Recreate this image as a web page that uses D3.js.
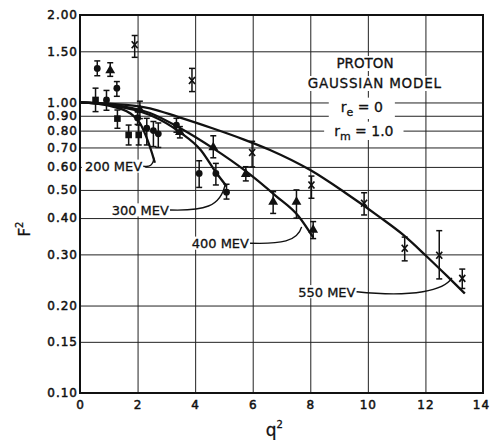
<!DOCTYPE html>
<html>
<head>
<meta charset="utf-8">
<script src="https://cdn.jsdelivr.net/npm/d3@7"></script>
<style>
  body { margin: 0; background: #fff; }
  svg text { font-family: "DejaVu Sans", sans-serif; fill: #111; }
</style>
</head>
<body>
<svg id="chart" width="490" height="440"></svg>
<script>
// ---- axis ticks ----
const xTicks = [0, 2, 4, 6, 8, 10, 12, 14];
const yTicks = [0.10, 0.15, 0.20, 0.30, 0.40, 0.50, 0.60, 0.70, 0.80, 0.90, 1.00, 1.50, 2.00];
const yTickLabels = ["0.10", "0.15", "0.20", "0.30", "0.40", "0.50", "0.60", "0.70", "0.80", "0.90", "1.00", "1.50", "2.00"];

// ---- Gaussian-model curves (r_e = 0, r_m = 1.0), one per beam energy ----
const energies = ["200 MEV", "300 MEV", "400 MEV", "550 MEV"];
const curveQ2_200 = [0, 1.0, 1.74, 2.08, 2.34, 2.50, 2.60];
const curveF2_200 = [1.0, 0.975, 0.918, 0.85, 0.745, 0.67, 0.62];
const curveQ2_300 = [0, 1.0, 2.43, 3.47, 4.2, 4.72, 5.09];
const curveF2_300 = [1.0, 0.98, 0.905, 0.79, 0.685, 0.575, 0.515];
const curveQ2_400 = [0, 1.0, 2.43, 3.47, 4.63, 5.76, 6.8, 7.6, 8.1];
const curveF2_400 = [1.0, 0.985, 0.92, 0.817, 0.695, 0.58, 0.477, 0.405, 0.343];
const curveQ2_550 = [0, 1.0, 2.43, 3.4, 4.6, 5.7, 6.6, 8.0, 9.2, 10.4, 11.2, 12.0, 12.8, 13.37];
const curveF2_550 = [1.0, 0.99, 0.955, 0.892, 0.815, 0.745, 0.686, 0.585, 0.49, 0.404, 0.352, 0.298, 0.25, 0.22];

// ---- measured F^2 with error limits ----
// 200 MeV (squares)
const q2Meas200 = [0.54, 1.30, 1.69, 2.04];
const f2Meas200 = [1.02, 0.88, 0.773, 0.773];
const f2Lo200   = [0.93, 0.815, 0.714, 0.714];
const f2Hi200   = [1.12, 0.942, 0.836, 0.836];
// 300 MeV (circles)
const q2Meas300 = [0.60, 0.92, 1.28, 2.00, 2.32, 2.55, 2.72, 3.35, 4.14, 4.72, 5.09];
const f2Meas300 = [1.31, 1.02, 1.12, 0.885, 0.815, 0.80, 0.78, 0.836, 0.57, 0.57, 0.491];
const f2Lo300   = [1.236, 0.94, 1.05, 0.84, 0.714, 0.705, 0.70, 0.79, 0.51, 0.52, 0.465];
const f2Hi300   = [1.39, 1.10, 1.18, 0.93, 0.882, 0.86, 0.85, 0.882, 0.63, 0.617, 0.523];
// 400 MeV (triangles)
const q2Meas400 = [1.05, 2.08, 3.47, 4.63, 5.76, 6.71, 7.52, 8.10];
const f2Meas400 = [1.29, 0.942, 0.79, 0.70, 0.567, 0.455, 0.455, 0.364];
const f2Lo400   = [1.23, 0.88, 0.755, 0.645, 0.537, 0.415, 0.40, 0.34];
const f2Hi400   = [1.37, 1.01, 0.826, 0.768, 0.601, 0.493, 0.50, 0.389];
// 550 MeV (crosses)
const q2Meas550 = [1.90, 3.89, 5.98, 8.04, 9.87, 11.28, 12.48, 13.28];
const f2Meas550 = [1.58, 1.19, 0.673, 0.52, 0.45, 0.315, 0.298, 0.248];
const f2Lo550   = [1.43, 1.09, 0.60, 0.468, 0.41, 0.285, 0.247, 0.229];
const f2Hi550   = [1.70, 1.31, 0.735, 0.558, 0.489, 0.344, 0.362, 0.267];

// ---- energy labels and where their leader lines meet the curves (q^2, F^2) ----
const labelQ2  = [0.17, 1.10, 3.88, 7.58];
const labelF2  = [0.58, 0.41, 0.315, 0.2145];
const leaderQ2 = [2.57, 5.05, 7.70, 12.92];
const leaderF2 = [0.645, 0.527, 0.373, 0.249];

// ---- model description text ----
const modelLines = ["PROTON", "GAUSSIAN MODEL"];

// ------------------------------------------------------------
const svg = d3.select("#chart");
const x = d3.scaleLinear().domain([0, 14]).range([80, 483]);
const y = d3.scaleLog().domain([0.1, 2]).range([393, 15]);
const W = x(14) - x(0), H = y(0.1) - y(2);
const ink = "#111";

// grid + tick labels via axes
const yAxis = svg.append("g").attr("transform", `translate(${x(0)},0)`)
  .call(d3.axisLeft(y).tickValues(yTicks).tickFormat((d, i) => yTickLabels[i])
    .tickSize(-W).tickPadding(3));
const xAxis = svg.append("g").attr("transform", `translate(0,${y(0.1)})`)
  .call(d3.axisBottom(x).tickValues(xTicks).tickFormat(d3.format("d"))
    .tickSize(-H).tickPadding(7));
[xAxis, yAxis].forEach(g => {
  g.select(".domain").remove();
  g.selectAll(".tick line").attr("stroke", "#222").attr("stroke-width", 1);
  g.selectAll(".tick text").attr("font-family", "DejaVu Sans").attr("font-size", 12)
    .attr("letter-spacing", 1).attr("fill", ink).attr("stroke", ink).attr("stroke-width", 0.5);
});
yAxis.selectAll(".tick text").attr("dx", 1);
xAxis.selectAll(".tick text").filter(d => d === 14).attr("dx", -2);

// white patches behind annotation text (they cut the grid)
const patchLayer = svg.append("g");
const textLayer = svg.append("g");
function patch(node, padX, padTop, padBot, fs, baseline) {
  const b = node.getBBox();
  patchLayer.append("rect")
    .attr("x", b.x - padX).attr("width", b.width + 2 * padX)
    .attr("y", baseline - 0.74 * fs - padTop)
    .attr("height", 0.74 * fs + padTop + padBot)
    .attr("fill", "#fff");
}

// model description block
const t1 = textLayer.append("text").attr("x", x(9.9)).attr("y", 68)
  .attr("text-anchor", "middle").attr("font-size", 13.5)
  .attr("stroke", ink).attr("stroke-width", 0.3).text(modelLines[0]);
patch(t1.node(), 3, 2, 3, 13.5, 68);
const t2 = textLayer.append("text").attr("x", x(10.24)).attr("y", 88)
  .attr("text-anchor", "middle").attr("font-size", 13.5).attr("letter-spacing", 0.8)
  .attr("stroke", ink).attr("stroke-width", 0.3).text(modelLines[1]);
patch(t2.node(), 3, 2, 3, 13.5, 88);

const re = textLayer.append("text").attr("x", x(9.79)).attr("y", 112)
  .attr("text-anchor", "middle").attr("font-size", 14)
  .attr("stroke", ink).attr("stroke-width", 0.3);
re.append("tspan").text("r");
re.append("tspan").attr("font-size", 11).attr("dy", 4).text("e");
re.append("tspan").attr("dy", -4).text(" = 0");
patch(re.node(), 12, 4, 7, 14, 112);

const rm = textLayer.append("text").attr("x", x(9.86)).attr("y", 136)
  .attr("text-anchor", "middle").attr("font-size", 14)
  .attr("stroke", ink).attr("stroke-width", 0.3);
rm.append("tspan").text("r");
rm.append("tspan").attr("font-size", 11).attr("dy", 4).text("m");
rm.append("tspan").attr("dy", -4).text(" = 1.0");
patch(rm.node(), 10, 4, 4, 14, 136);

// energy labels with leaders
energies.forEach((lab, i) => {
  const bx = x(labelQ2[i]), by = y(labelF2[i]);
  const t = textLayer.append("text").attr("x", bx).attr("y", by)
    .attr("font-size", 13).attr("stroke", ink).attr("stroke-width", 0.3).text(lab);
  patch(t.node(), 3, 2, 1.5, 13, by);
  const b = t.node().getBBox();
  const sx = b.x + b.width + 1, sy = by - 5;
  const ex = x(leaderQ2[i]), ey = y(leaderF2[i]);
  const dx = ex - sx;
  const p = d3.path();
  p.moveTo(sx, sy);
  p.bezierCurveTo(sx + 0.6 * dx, sy + (i === 3 ? 6 : 1), ex - 0.08 * dx, sy - 0.1 * (sy - ey), ex, ey);
  textLayer.append("path").attr("d", p.toString()).attr("fill", "none")
    .attr("stroke", ink).attr("stroke-width", 1.4);
});

// theory curves
const line = d3.line().x(d => x(d[0])).y(d => y(d[1])).curve(d3.curveMonotoneX);
const curves = [
  d3.zip(curveQ2_200, curveF2_200),
  d3.zip(curveQ2_300, curveF2_300),
  d3.zip(curveQ2_400, curveF2_400),
  d3.zip(curveQ2_550, curveF2_550)
];
svg.append("g").selectAll("path").data(curves).join("path")
  .attr("d", line).attr("fill", "none").attr("stroke", ink)
  .attr("stroke-width", 2.3).attr("stroke-linejoin", "round");

// measured points
const series = [
  { q: q2Meas200, f: f2Meas200, lo: f2Lo200, hi: f2Hi200, shape: "square" },
  { q: q2Meas300, f: f2Meas300, lo: f2Lo300, hi: f2Hi300, shape: "circle" },
  { q: q2Meas400, f: f2Meas400, lo: f2Lo400, hi: f2Hi400, shape: "triangle" },
  { q: q2Meas550, f: f2Meas550, lo: f2Lo550, hi: f2Hi550, shape: "cross" }
];
const pts = svg.append("g");
series.forEach(s => {
  s.q.forEach((qv, i) => {
    const cx = x(qv), cy = y(s.f[i]), y1 = y(s.hi[i]), y2 = y(s.lo[i]);
    const g = pts.append("g");
    g.append("line").attr("x1", cx).attr("x2", cx).attr("y1", y1).attr("y2", y2)
      .attr("stroke", ink).attr("stroke-width", 1.5);
    [y1, y2].forEach(yy => g.append("line").attr("x1", cx - 3).attr("x2", cx + 3)
      .attr("y1", yy).attr("y2", yy).attr("stroke", ink).attr("stroke-width", 1.5));
    if (s.shape === "square") {
      g.append("rect").attr("x", cx - 3.3).attr("y", cy - 3.3).attr("width", 6.6).attr("height", 6.6).attr("fill", ink);
    } else if (s.shape === "circle") {
      g.append("circle").attr("cx", cx).attr("cy", cy).attr("r", 3.4).attr("fill", ink);
    } else if (s.shape === "triangle") {
      g.append("path").attr("transform", `translate(${cx},${cy})`)
        .attr("d", d3.symbol(d3.symbolTriangle, 42)()).attr("fill", ink);
    } else {
      g.append("path").attr("d", `M${cx - 3},${cy - 3.5}L${cx + 3},${cy + 3.5}M${cx + 3},${cy - 3.5}L${cx - 3},${cy + 3.5}`)
        .attr("stroke", ink).attr("stroke-width", 1.7);
    }
  });
});

// frame
svg.append("rect").attr("x", x(0)).attr("y", y(2)).attr("width", W).attr("height", H)
  .attr("fill", "none").attr("stroke", ink).attr("stroke-width", 2);

// axis titles
const qt = svg.append("text").attr("x", x(6.75)).attr("y", 436).attr("text-anchor", "middle")
  .attr("font-size", 17).attr("stroke", ink).attr("stroke-width", 0.3);
qt.append("tspan").text("q");
qt.append("tspan").attr("font-size", 10).attr("dy", -8).text("2");

const ft = svg.append("text").attr("transform", "translate(30,229) rotate(-90)")
  .attr("text-anchor", "middle").attr("font-size", 15).attr("stroke", ink).attr("stroke-width", 0.3);
ft.append("tspan").text("F");
ft.append("tspan").attr("font-size", 10).attr("dy", -7).text("2");
</script>
</body>
</html>
